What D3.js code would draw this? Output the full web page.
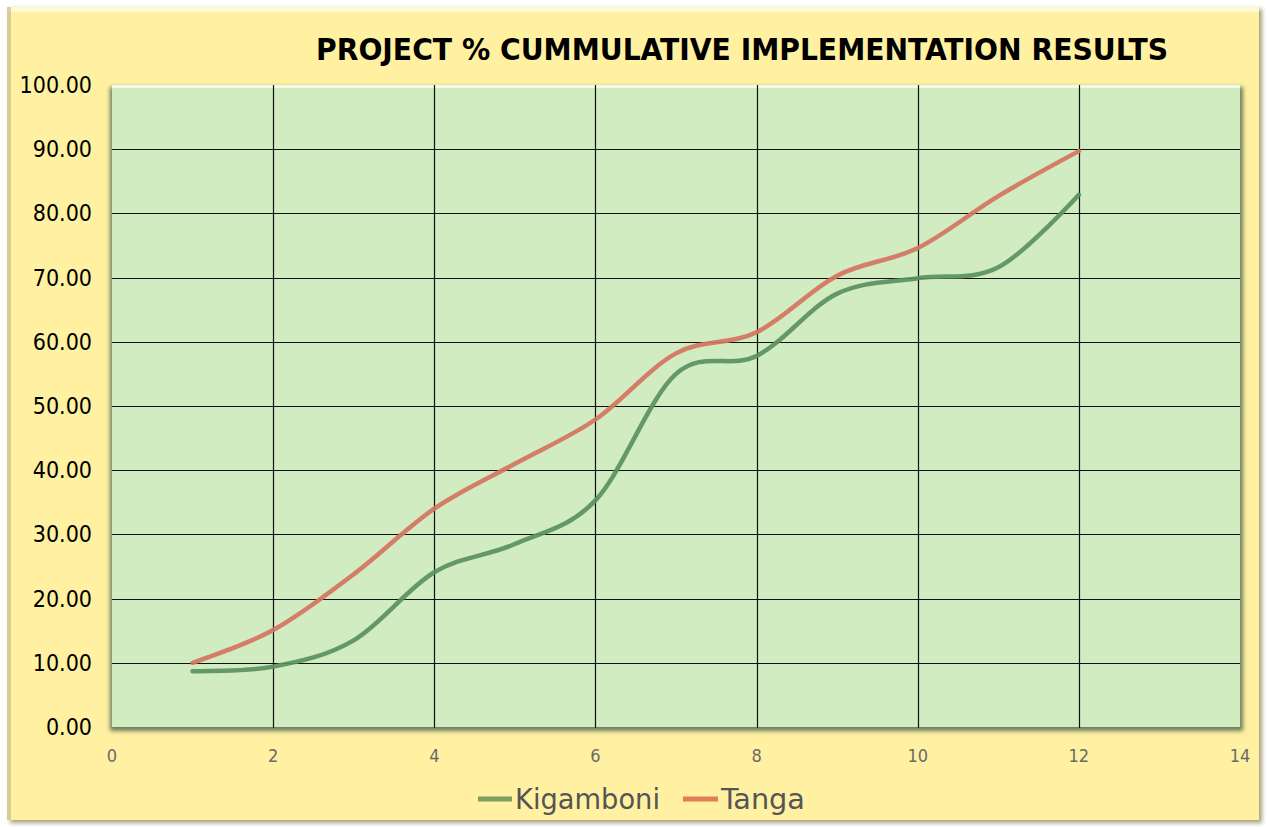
<!DOCTYPE html>
<html>
<head>
<meta charset="utf-8">
<script src="https://cdn.jsdelivr.net/npm/d3@7"></script>
<style>
  body { margin: 0; background: #ffffff; }
  svg { display: block; }
</style>
</head>
<body>
<div id="chart"></div>
<script>
// values
let months = [1, 2, 3, 4, 5, 6, 7, 8, 9, 10, 11, 12];
let kigamboni = [8.7, 9.4, 13.5, 24.1, 28.5, 35.3, 55.0, 57.8, 67.5, 69.9, 71.6, 82.9];
let tanga = [10.0, 15.1, 23.8, 34.0, 41.0, 47.9, 58.2, 61.5, 70.3, 74.6, 82.7, 89.7];
let xTicks = [0, 2, 4, 6, 8, 10, 12, 14];
let yTicks = [0, 10, 20, 30, 40, 50, 60, 70, 80, 90, 100];
let seriesNames = ['Kigamboni', 'Tanga'];
let chartTitle = 'PROJECT % CUMMULATIVE IMPLEMENTATION RESULTS';

let width = 1267;
let height = 827;
let plot = {left: 112, top: 85, right: 1240, bottom: 727};
let fontFamily = 'DejaVu Sans Condensed, DejaVu Sans, sans-serif';

let lineColors = {Kigamboni: '#5a9062', Tanga: '#d4735f'};
let legendColors = {Kigamboni: '#7e9e62', Tanga: '#e27d58'};

let svg = d3.select('#chart').append('svg')
    .attr('width', width)
    .attr('height', height);

let defs = svg.append('defs');
let blur = defs.append('filter').attr('id', 'shadow')
    .attr('x', '-5%').attr('y', '-5%').attr('width', '110%').attr('height', '110%');
blur.append('feGaussianBlur').attr('stdDeviation', 2);

// outer chart area with bevel edges
svg.append('rect')
    .attr('x', 10).attr('y', 9).attr('width', 1252).attr('height', 814)
    .attr('fill', '#a89f7a')
    .attr('filter', 'url(#shadow)');
svg.append('rect')
    .attr('x', 7).attr('y', 7).attr('width', 1252).attr('height', 813)
    .attr('fill', '#fff1a1');
svg.append('rect')
    .attr('x', 7).attr('y', 7).attr('width', 1252).attr('height', 5)
    .attr('fill', '#fffbe0').attr('opacity', 0.8);
svg.append('rect')
    .attr('x', 7).attr('y', 7).attr('width', 4).attr('height', 813)
    .attr('fill', '#c9bd8c').attr('opacity', 0.7);

// title
svg.append('text')
    .attr('x', 742).attr('y', 60)
    .attr('text-anchor', 'middle')
    .attr('font-family', fontFamily)
    .attr('font-weight', 'bold')
    .attr('font-size', 30)
    .attr('textLength', 852)
    .attr('lengthAdjust', 'spacingAndGlyphs')
    .attr('fill', '#000')
    .text(chartTitle);

let x = d3.scaleLinear().domain([0, 14]).range([plot.left, plot.right]);
let y = d3.scaleLinear().domain([0, 100]).range([plot.bottom, plot.top]);

// plot area shadow + background
svg.append('rect')
    .attr('x', plot.left - 2).attr('y', plot.top + 2)
    .attr('width', plot.right - plot.left + 5).attr('height', plot.bottom - plot.top + 2)
    .attr('fill', '#6d7a5f')
    .attr('filter', 'url(#shadow)');
svg.append('rect')
    .attr('x', plot.left).attr('y', plot.top)
    .attr('width', plot.right - plot.left).attr('height', plot.bottom - plot.top)
    .attr('fill', '#d2ecc1');
svg.append('rect')
    .attr('x', plot.left).attr('y', plot.top)
    .attr('width', plot.right - plot.left).attr('height', 3)
    .attr('fill', '#f2fbe9');

// gridlines
let grid = svg.append('g').attr('stroke', '#111').attr('stroke-width', 1.2);
grid.selectAll('line.h')
    .data(yTicks.filter((d) => d > 0 && d < 100))
    .join('line')
    .attr('x1', plot.left).attr('x2', plot.right)
    .attr('y1', (d) => Math.round(y(d)) + 0.5).attr('y2', (d) => Math.round(y(d)) + 0.5);
grid.selectAll('line.v')
    .data(xTicks.filter((d) => d > 0 && d < 14))
    .join('line')
    .attr('y1', plot.top).attr('y2', plot.bottom + 1)
    .attr('x1', (d) => Math.round(x(d)) + 0.5).attr('x2', (d) => Math.round(x(d)) + 0.5);

// y axis labels
svg.append('g').selectAll('text')
    .data(yTicks)
    .join('text')
    .attr('x', 92)
    .attr('y', (d) => y(d) + 8)
    .attr('text-anchor', 'end')
    .attr('font-family', fontFamily)
    .attr('font-size', 23)
    .attr('fill', '#000')
    .text((d) => d3.format('.2f')(d));

// x axis labels
svg.append('g').selectAll('text')
    .data(xTicks)
    .join('text')
    .attr('x', (d) => x(d))
    .attr('y', 762)
    .attr('text-anchor', 'middle')
    .attr('font-family', fontFamily)
    .attr('font-size', 18)
    .attr('fill', '#6a6a6a')
    .text((d) => d);

// series lines (Excel-style smoothing)
let line = d3.line()
    .x((d) => x(d.month))
    .y((d) => y(d.value))
    .curve(d3.curveCatmullRom.alpha(0));

let series = [
  {name: seriesNames[0], values: months.map((m, i) => ({month: m, value: kigamboni[i]}))},
  {name: seriesNames[1], values: months.map((m, i) => ({month: m, value: tanga[i]}))},
];

svg.append('g').selectAll('path')
    .data(series)
    .join('path')
    .attr('d', (d) => line(d.values))
    .attr('fill', 'none')
    .attr('stroke', (d) => lineColors[d.name])
    .attr('stroke-width', 4.5)
    .attr('stroke-opacity', 0.92)
    .attr('stroke-linecap', 'round');

// legend
let legendItems = [
  {name: seriesNames[0], x1: 478, x2: 512, tx: 515, len: 145},
  {name: seriesNames[1], x1: 683, x2: 718, tx: 721, len: 84},
];
let legend = svg.append('g');
legend.selectAll('line')
    .data(legendItems)
    .join('line')
    .attr('x1', (d) => d.x1).attr('x2', (d) => d.x2)
    .attr('y1', 799).attr('y2', 799)
    .attr('stroke', (d) => legendColors[d.name])
    .attr('stroke-width', 5);
legend.selectAll('text')
    .data(legendItems)
    .join('text')
    .attr('x', (d) => d.tx)
    .attr('y', 809)
    .attr('font-family', fontFamily)
    .attr('font-size', 28)
    .attr('textLength', (d) => d.len)
    .attr('lengthAdjust', 'spacingAndGlyphs')
    .attr('fill', '#555')
    .text((d) => d.name);
</script>
</body>
</html>
